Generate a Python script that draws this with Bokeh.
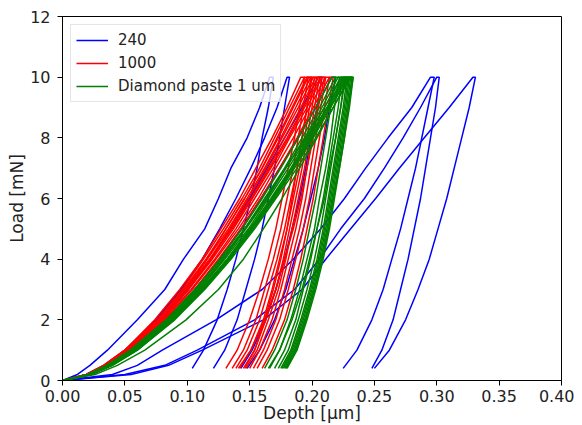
from bokeh.plotting import figure
from bokeh.models import Range1d, FixedTicker, PrintfTickFormatter
from bokeh.embed import file_html
from bokeh.resources import INLINE

LOAD_UP = [0, 0.2, 0.5, 1, 2, 3, 4, 5, 6, 7, 8, 9, 10]
LOAD_DOWN = [10, 9, 8, 7, 6, 5, 4, 3, 2, 1, 0.4]

# "240" series: depth (um) at LOAD_UP (loading) and LOAD_DOWN (unloading)
S240_UP = [
    [0, 0.012, 0.022, 0.036, 0.060, 0.082, 0.097, 0.114, 0.125, 0.135, 0.148, 0.158, 0.166],
    [0, 0.019, 0.033, 0.050, 0.075, 0.095, 0.112, 0.126, 0.139, 0.151, 0.162, 0.172, 0.180],
    [0, 0.021, 0.036, 0.054, 0.080, 0.101, 0.119, 0.135, 0.150, 0.164, 0.178, 0.192, 0.205],
    [0, 0.022, 0.038, 0.056, 0.084, 0.106, 0.126, 0.143, 0.159, 0.174, 0.189, 0.203, 0.216],
    [0, 0.040, 0.060, 0.080, 0.123, 0.160, 0.185, 0.207, 0.226, 0.243, 0.261, 0.280, 0.295],
    [0, 0.050, 0.082, 0.108, 0.154, 0.186, 0.206, 0.223, 0.242, 0.258, 0.273, 0.287, 0.300],
    [0, 0.055, 0.085, 0.112, 0.161, 0.192, 0.211, 0.231, 0.251, 0.270, 0.290, 0.310, 0.329],
]
S240_DOWN = [
    [0.169, 0.165, 0.160, 0.156, 0.151, 0.145, 0.139, 0.132, 0.124, 0.113, 0.104],
    [0.182, 0.178, 0.174, 0.170, 0.165, 0.160, 0.154, 0.147, 0.140, 0.130, 0.121],
    [0.208, 0.204, 0.199, 0.195, 0.190, 0.184, 0.178, 0.171, 0.163, 0.152, 0.143],
    [0.219, 0.214, 0.210, 0.205, 0.199, 0.193, 0.186, 0.179, 0.170, 0.158, 0.148],
    [0.298, 0.293, 0.288, 0.283, 0.277, 0.271, 0.264, 0.257, 0.248, 0.236, 0.225],
    [0.302, 0.299, 0.295, 0.291, 0.287, 0.282, 0.277, 0.271, 0.265, 0.256, 0.248],
    [0.331, 0.326, 0.320, 0.314, 0.308, 0.301, 0.294, 0.285, 0.275, 0.262, 0.250],
]

# "1000" series
S1000_UP = [
    [0, 0.019, 0.033, 0.050, 0.074, 0.094, 0.112, 0.127, 0.142, 0.155, 0.168, 0.180, 0.191],
    [0, 0.020, 0.034, 0.050, 0.076, 0.096, 0.113, 0.129, 0.144, 0.158, 0.170, 0.182, 0.194],
    [0, 0.020, 0.034, 0.051, 0.077, 0.097, 0.115, 0.131, 0.146, 0.160, 0.173, 0.185, 0.197],
    [0, 0.020, 0.034, 0.052, 0.078, 0.098, 0.116, 0.133, 0.148, 0.162, 0.175, 0.187, 0.199],
    [0, 0.020, 0.035, 0.052, 0.078, 0.099, 0.118, 0.134, 0.149, 0.163, 0.176, 0.189, 0.201],
    [0, 0.021, 0.035, 0.053, 0.079, 0.100, 0.119, 0.135, 0.151, 0.165, 0.178, 0.191, 0.203],
    [0, 0.021, 0.035, 0.053, 0.080, 0.101, 0.120, 0.137, 0.152, 0.166, 0.180, 0.193, 0.205],
    [0, 0.021, 0.036, 0.054, 0.081, 0.103, 0.122, 0.139, 0.154, 0.169, 0.182, 0.196, 0.208],
    [0, 0.021, 0.037, 0.055, 0.082, 0.104, 0.123, 0.141, 0.157, 0.171, 0.185, 0.198, 0.211],
    [0, 0.022, 0.037, 0.056, 0.083, 0.106, 0.125, 0.143, 0.159, 0.174, 0.188, 0.201, 0.214],
    [0, 0.022, 0.037, 0.055, 0.080, 0.099, 0.116, 0.131, 0.146, 0.160, 0.172, 0.184, 0.196],
    [0, 0.019, 0.033, 0.050, 0.077, 0.099, 0.118, 0.136, 0.152, 0.167, 0.181, 0.194, 0.207],
]
S1000_DOWN = [
    [0.194, 0.190, 0.186, 0.181, 0.176, 0.171, 0.165, 0.158, 0.150, 0.140, 0.131],
    [0.197, 0.193, 0.189, 0.185, 0.180, 0.175, 0.169, 0.162, 0.155, 0.145, 0.136],
    [0.200, 0.196, 0.192, 0.188, 0.183, 0.178, 0.172, 0.165, 0.158, 0.148, 0.139],
    [0.202, 0.198, 0.194, 0.190, 0.185, 0.180, 0.174, 0.168, 0.161, 0.151, 0.142],
    [0.204, 0.200, 0.196, 0.192, 0.187, 0.182, 0.177, 0.171, 0.163, 0.154, 0.145],
    [0.206, 0.202, 0.198, 0.194, 0.189, 0.184, 0.179, 0.173, 0.165, 0.156, 0.147],
    [0.208, 0.204, 0.200, 0.196, 0.192, 0.187, 0.181, 0.175, 0.168, 0.158, 0.150],
    [0.211, 0.207, 0.203, 0.199, 0.195, 0.190, 0.184, 0.178, 0.171, 0.161, 0.153],
    [0.214, 0.210, 0.206, 0.202, 0.198, 0.193, 0.187, 0.181, 0.174, 0.164, 0.156],
    [0.217, 0.213, 0.209, 0.205, 0.201, 0.196, 0.191, 0.185, 0.178, 0.168, 0.160],
    [0.199, 0.196, 0.192, 0.188, 0.184, 0.180, 0.175, 0.169, 0.162, 0.154, 0.146],
    [0.210, 0.205, 0.201, 0.196, 0.191, 0.185, 0.178, 0.171, 0.162, 0.151, 0.141],
]

# "Diamond paste 1 um" series
SDP_UP = [
    [0, 0.022, 0.037, 0.056, 0.084, 0.107, 0.126, 0.144, 0.160, 0.175, 0.189, 0.203, 0.216],
    [0, 0.022, 0.038, 0.057, 0.085, 0.108, 0.128, 0.146, 0.162, 0.178, 0.192, 0.206, 0.219],
    [0, 0.022, 0.038, 0.057, 0.086, 0.109, 0.129, 0.147, 0.164, 0.179, 0.194, 0.208, 0.221],
    [0, 0.023, 0.039, 0.058, 0.087, 0.110, 0.130, 0.149, 0.165, 0.181, 0.196, 0.210, 0.223],
    [0, 0.023, 0.039, 0.059, 0.088, 0.111, 0.132, 0.150, 0.167, 0.183, 0.197, 0.212, 0.225],
    [0, 0.023, 0.039, 0.059, 0.088, 0.112, 0.132, 0.151, 0.168, 0.184, 0.198, 0.212, 0.226],
    [0, 0.023, 0.039, 0.059, 0.089, 0.112, 0.133, 0.151, 0.168, 0.184, 0.199, 0.213, 0.227],
    [0, 0.023, 0.039, 0.059, 0.089, 0.113, 0.133, 0.152, 0.169, 0.185, 0.200, 0.214, 0.228],
    [0, 0.023, 0.040, 0.060, 0.089, 0.113, 0.134, 0.153, 0.170, 0.186, 0.201, 0.215, 0.229],
    [0, 0.023, 0.040, 0.060, 0.090, 0.114, 0.135, 0.154, 0.171, 0.188, 0.203, 0.217, 0.231],
    [0, 0.020, 0.035, 0.054, 0.083, 0.106, 0.127, 0.146, 0.163, 0.179, 0.195, 0.210, 0.224],
    [0, 0.026, 0.044, 0.066, 0.099, 0.125, 0.145, 0.161, 0.176, 0.190, 0.204, 0.217, 0.230],
]
SDP_DOWN = [
    [0.219, 0.215, 0.211, 0.207, 0.203, 0.198, 0.193, 0.187, 0.180, 0.170, 0.162],
    [0.222, 0.218, 0.215, 0.211, 0.206, 0.202, 0.196, 0.190, 0.183, 0.174, 0.166],
    [0.224, 0.221, 0.217, 0.213, 0.209, 0.204, 0.199, 0.193, 0.187, 0.178, 0.170],
    [0.226, 0.223, 0.219, 0.215, 0.211, 0.207, 0.202, 0.196, 0.189, 0.181, 0.173],
    [0.228, 0.225, 0.221, 0.217, 0.213, 0.209, 0.204, 0.198, 0.191, 0.183, 0.175],
    [0.229, 0.226, 0.222, 0.218, 0.214, 0.210, 0.205, 0.199, 0.192, 0.184, 0.176],
    [0.230, 0.227, 0.223, 0.219, 0.215, 0.211, 0.206, 0.200, 0.193, 0.185, 0.177],
    [0.231, 0.228, 0.224, 0.220, 0.216, 0.212, 0.207, 0.201, 0.194, 0.186, 0.178],
    [0.232, 0.229, 0.225, 0.221, 0.217, 0.213, 0.208, 0.202, 0.195, 0.187, 0.179],
    [0.233, 0.230, 0.226, 0.222, 0.218, 0.214, 0.209, 0.203, 0.196, 0.188, 0.180],
    [0.227, 0.223, 0.219, 0.214, 0.210, 0.204, 0.198, 0.192, 0.184, 0.174, 0.165],
    [0.233, 0.229, 0.226, 0.222, 0.217, 0.213, 0.208, 0.202, 0.195, 0.187, 0.179],
]

SERIES = [
    ("240", "#0000ff", S240_UP, S240_DOWN),
    ("1000", "#ff0000", S1000_UP, S1000_DOWN),
    ("Diamond paste 1 um", "#008000", SDP_UP, SDP_DOWN),
]

X_TICKS = [0.0, 0.05, 0.10, 0.15, 0.20, 0.25, 0.30, 0.35, 0.40]
Y_TICKS = [0, 2, 4, 6, 8, 10, 12]

FONT = "DejaVu Sans"

p = figure(
    frame_width=499, frame_height=364,
    x_range=Range1d(0, 0.4), y_range=Range1d(0, 12),
    output_backend="svg", toolbar_location=None,
    min_border_left=62, min_border_right=13, min_border_top=16, min_border_bottom=30,
    background_fill_color="white", border_fill_color="white",
)

for label, color, ups, downs in SERIES:
    xs = [u + d for u, d in zip(ups, downs)]
    ys = [LOAD_UP + LOAD_DOWN for _ in ups]
    p.multi_line(xs, ys, line_color=color, line_width=1.5, legend_label=label)

p.xgrid.visible = False
p.ygrid.visible = False
p.outline_line_color = "black"
p.outline_line_width = 1

for ax in (p.xaxis[0], p.yaxis[0]):
    ax.axis_line_color = "black"
    ax.major_tick_line_color = "black"
    ax.major_tick_out = 5
    ax.major_tick_in = 0
    ax.minor_tick_line_color = None
    ax.major_label_text_font = FONT
    ax.major_label_text_font_size = "16px"
    ax.major_label_text_color = "#222222"
    ax.axis_label_text_font = FONT
    ax.axis_label_text_font_size = "17px"
    ax.axis_label_text_font_style = "normal"
    ax.axis_label_text_color = "#222222"

p.xaxis.major_label_standoff = 4
p.xaxis.axis_label_standoff = -2
p.yaxis.major_label_standoff = 7
p.yaxis.axis_label_standoff = 0

p.xaxis.ticker = FixedTicker(ticks=X_TICKS)
p.yaxis.ticker = FixedTicker(ticks=Y_TICKS)
p.xaxis.formatter = PrintfTickFormatter(format="%.2f")
p.xaxis.axis_label = "Depth [µm]"
p.yaxis.axis_label = "Load [mN]"

lg = p.legend[0]
lg.location = "top_left"
lg.margin = 8
lg.padding = 5
lg.spacing = 3
lg.label_height = 20
lg.glyph_height = 20
lg.glyph_width = 32
lg.label_standoff = 10
lg.label_text_font = FONT
lg.label_text_font_size = "15px"
lg.label_text_color = "#222222"
lg.border_line_color = "#cccccc"
lg.background_fill_alpha = 0.8

open("out.html", "w").write(file_html(p, INLINE))
